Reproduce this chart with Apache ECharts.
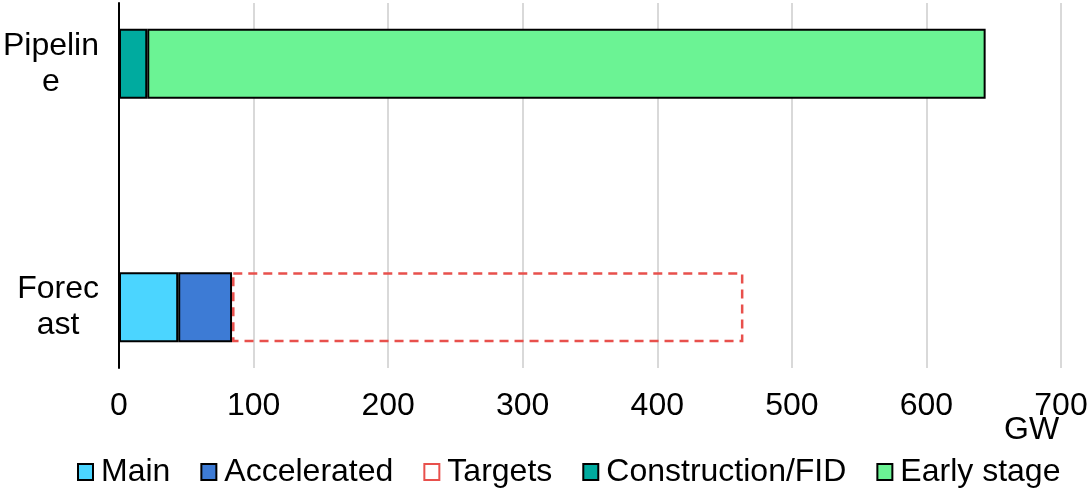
<!DOCTYPE html>
<html>
<head>
<meta charset="utf-8">
<script src="https://cdn.jsdelivr.net/npm/echarts@6/dist/echarts.min.js"></script>
<style>
  html, body { margin: 0; padding: 0; background: #fff; }
  #chart { width: 1091px; height: 488px; }
</style>
</head>
<body>
<div id="chart"></div>
<script>
// Rows, bottom to top; the middle row is an empty spacer
const categories = ['Forecast', '', 'Pipeline'];
const categoryLabels = [['Forec', 'ast'], [], ['Pipelin', 'e']];

// Capacity in GW (segments stack left to right)
const mainValues         = [44, null, null];
const acceleratedValues  = [40, null, null];
const targetsValues      = [380, null, null];
const constructionValues = [null, null, 21];
const earlyStageValues   = [null, null, 623];

const xTicks = { min: 0, max: 700, interval: 100 };
const unitLabel = 'GW';

const FONT = "'Liberation Sans', Arial, sans-serif";
const FS = 32;

const chart = echarts.init(document.getElementById('chart'), null, { renderer: 'canvas' });

function solid(name, data, color) {
  return {
    name, type: 'bar', stack: 'total', data, barWidth: 70,
    itemStyle: { color, borderColor: '#000', borderWidth: 2 },
    emphasis: { disabled: true }
  };
}

chart.setOption({
  animation: false,
  textStyle: { fontFamily: FONT, color: '#000' },
  grid: { left: 119, right: 30, top: 3, bottom: 120, containLabel: false, outerBoundsMode: 'none' },
  xAxis: {
    type: 'value',
    min: xTicks.min, max: xTicks.max, interval: xTicks.interval,
    axisLine: { show: false },
    axisTick: { show: false },
    splitLine: { show: true, lineStyle: { color: '#d9d9d9', width: 2 } },
    axisLabel: { fontSize: FS, color: '#000', fontFamily: FONT, margin: 22, hideOverlap: false }
  },
  yAxis: {
    type: 'category',
    data: categories,
    axisLine: { show: true, lineStyle: { color: '#000', width: 2 } },
    axisTick: { show: false },
    splitLine: { show: false },
    axisLabel: {
      fontSize: FS, color: '#000', fontFamily: FONT,
      align: 'right', margin: 20,
      // lines centred within the right-aligned label block
      formatter: (v, i) => categoryLabels[i].map(s => '{c|' + s + '}').join('\n'),
      rich: { c: { fontSize: FS, fontFamily: FONT, color: '#000', align: 'center', lineHeight: 36 } }
    }
  },
  legend: {
    left: 72, bottom: -5,
    itemWidth: 15, itemHeight: 16, itemGap: 30,
    textStyle: { fontSize: FS, color: '#000', fontFamily: FONT, padding: [0, 0, 0, 3] },
    data: ['Main', 'Accelerated', 'Targets', 'Construction/FID', 'Early stage'].map(n => ({ name: n, icon: 'rect' }))
  },
  graphic: [{
    type: 'text', left: 1004, top: 414,
    style: { text: unitLabel, fontSize: FS, fontFamily: FONT, fill: '#000' }
  }],
  series: [
    solid('Main', mainValues, '#4bd5ff'),
    solid('Accelerated', acceleratedValues, '#3d7bd5'),
    {
      name: 'Targets', type: 'bar', stack: 'total', data: targetsValues, barWidth: 70,
      itemStyle: { color: 'rgba(255,255,255,0)', borderColor: '#e8504c', borderWidth: 2.5, borderType: [9, 6] },
      emphasis: { disabled: true }
    },
    solid('Construction/FID', constructionValues, '#00ab9f'),
    solid('Early stage', earlyStageValues, '#6bf394')
  ]
});
</script>
</body>
</html>
